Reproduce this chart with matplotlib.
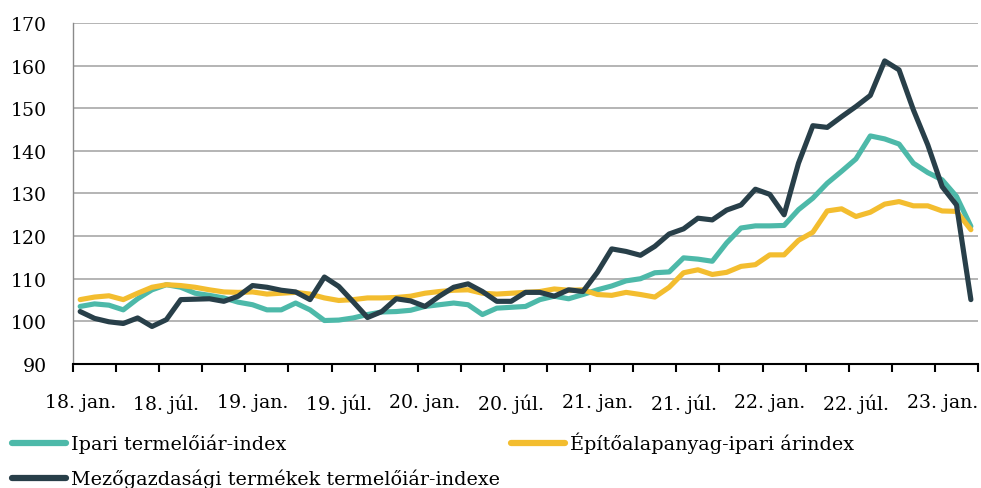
#!/usr/bin/env python3

import numpy as np
import matplotlib
matplotlib.use("Agg")
import matplotlib.pyplot as plt

# monthly index values, 2018 jan .. 2023 mar
ipari = [103.5, 104.1, 103.8, 102.7, 105.3, 107.4, 108.6, 108.0, 106.6, 106.1,
         105.5, 104.5, 103.9, 102.7, 102.7, 104.3, 102.7, 100.2, 100.3, 100.8,
         101.6, 102.2, 102.3, 102.6, 103.5, 103.9, 104.3, 103.9, 101.6, 103.1,
         103.3, 103.5, 105.1, 105.9, 105.3, 106.3, 107.4, 108.3, 109.5, 110.0,
         111.4, 111.6, 114.9, 114.6, 114.1, 118.4, 121.9, 122.4, 122.4, 122.5,
         126.2, 128.9, 132.4, 135.2, 138.1, 143.5, 142.8, 141.6, 137.1, 134.9,
         133.2, 129.3, 122.3]
epito = [105.1, 105.7, 106.0, 105.1, 106.6, 108.0, 108.6, 108.4, 108.0, 107.4,
         106.9, 106.8, 106.9, 106.4, 106.6, 106.8, 106.4, 105.5, 104.9, 105.1,
         105.5, 105.5, 105.6, 105.9, 106.6, 107.0, 107.3, 107.4, 106.6, 106.4,
         106.6, 106.8, 107.0, 107.6, 107.3, 107.4, 106.3, 106.1, 106.8, 106.3,
         105.7, 108.0, 111.4, 112.1, 111.0, 111.5, 112.9, 113.3, 115.6, 115.6,
         119.0, 120.9, 125.9, 126.4, 124.6, 125.6, 127.5, 128.1, 127.1, 127.1,
         125.9, 125.8, 121.5]
mezo = [102.3, 100.7, 99.9, 99.5, 100.8, 98.8, 100.4, 105.1, 105.2, 105.3,
        104.7, 105.9, 108.4, 108.0, 107.3, 106.9, 105.1, 110.4, 108.2, 104.6,
        100.9, 102.3, 105.3, 104.8, 103.5, 105.9, 108.0, 108.8, 107.0, 104.7,
        104.7, 106.8, 106.8, 105.9, 107.4, 107.0, 111.5, 117.0, 116.4, 115.5,
        117.6, 120.5, 121.7, 124.2, 123.8, 126.1, 127.3, 131.0, 129.8, 125.0,
        137.1, 145.9, 145.5, 148.0, 150.4, 153.0, 161.1, 159.0, 149.6, 141.4,
        131.6, 127.3, 105.1]

tick_labels = ["18. jan.", "18. júl.", "19. jan.", "19. júl.", "20. jan.",
               "20. júl.", "21. jan.", "21. júl.", "22. jan.", "22. júl.",
               "23. jan."]
series_names = ["Ipari termelőiár-index", "Építőalapanyag-ipari árindex",
                "Mezőgazdasági termékek termelőiár-indexe"]
colors = ["#4DB9A9", "#F3BD2F", "#283F49"]

fig = plt.figure(figsize=(9.81, 4.89), dpi=100)
ax = fig.add_axes([0.0744, 0.2536, 0.9226, 0.6974])

x = np.arange(len(mezo))
lines = []
for vals, name, col in zip([ipari, epito, mezo], series_names, colors):
    ln, = ax.plot(x, vals, color=col, lw=3.7, label=name,
                  solid_joinstyle="round", solid_capstyle="round")
    lines.append(ln)

ax.set_xlim(-0.5, len(x) - 0.5)
ax.set_ylim(90, 170)
ax.set_yticks(range(90, 171, 10))
ax.yaxis.grid(True, color="#A8A8A8", lw=1.2)
ax.set_axisbelow(True)

# month boundaries every quarter, labels every half year
ax.set_xticks(np.arange(-0.5, len(x), 3))
ax.set_xticklabels([])
ax.set_xticks(np.arange(0, len(x), 6), minor=True)
ax.set_xticklabels(tick_labels, minor=True)
ax.tick_params(axis="x", which="major", length=6, width=1.5, color="black")
ax.tick_params(axis="x", which="minor", length=0, pad=21)
ax.tick_params(axis="y", length=0, pad=19)
for lab in ax.get_xticklabels(minor=True) + ax.get_yticklabels():
    lab.set_family("DejaVu Serif")
    lab.set_fontsize(13.6)

for s in ["top", "right"]:
    ax.spines[s].set_visible(False)
ax.spines["bottom"].set_color("black")
ax.spines["bottom"].set_linewidth(1.5)
ax.spines["left"].set_color("#8A8A8A")
ax.spines["left"].set_linewidth(1.0)

leg = fig.legend([lines[0], lines[2], lines[1]],
                 [series_names[0], series_names[2], series_names[1]],
                 ncol=2, loc="upper left", bbox_to_anchor=(0.012, 0.115),
                 frameon=False, borderpad=0, borderaxespad=0,
                 handlelength=2.85, handletextpad=0.25, columnspacing=0.55,
                 labelspacing=0.82,
                 prop={"family": "DejaVu Serif", "size": 13.8})
for ln in leg.get_lines():
    ln.set_linewidth(4.5)
    ln.set_solid_capstyle("round")

plt.savefig("out.png", dpi=100)
